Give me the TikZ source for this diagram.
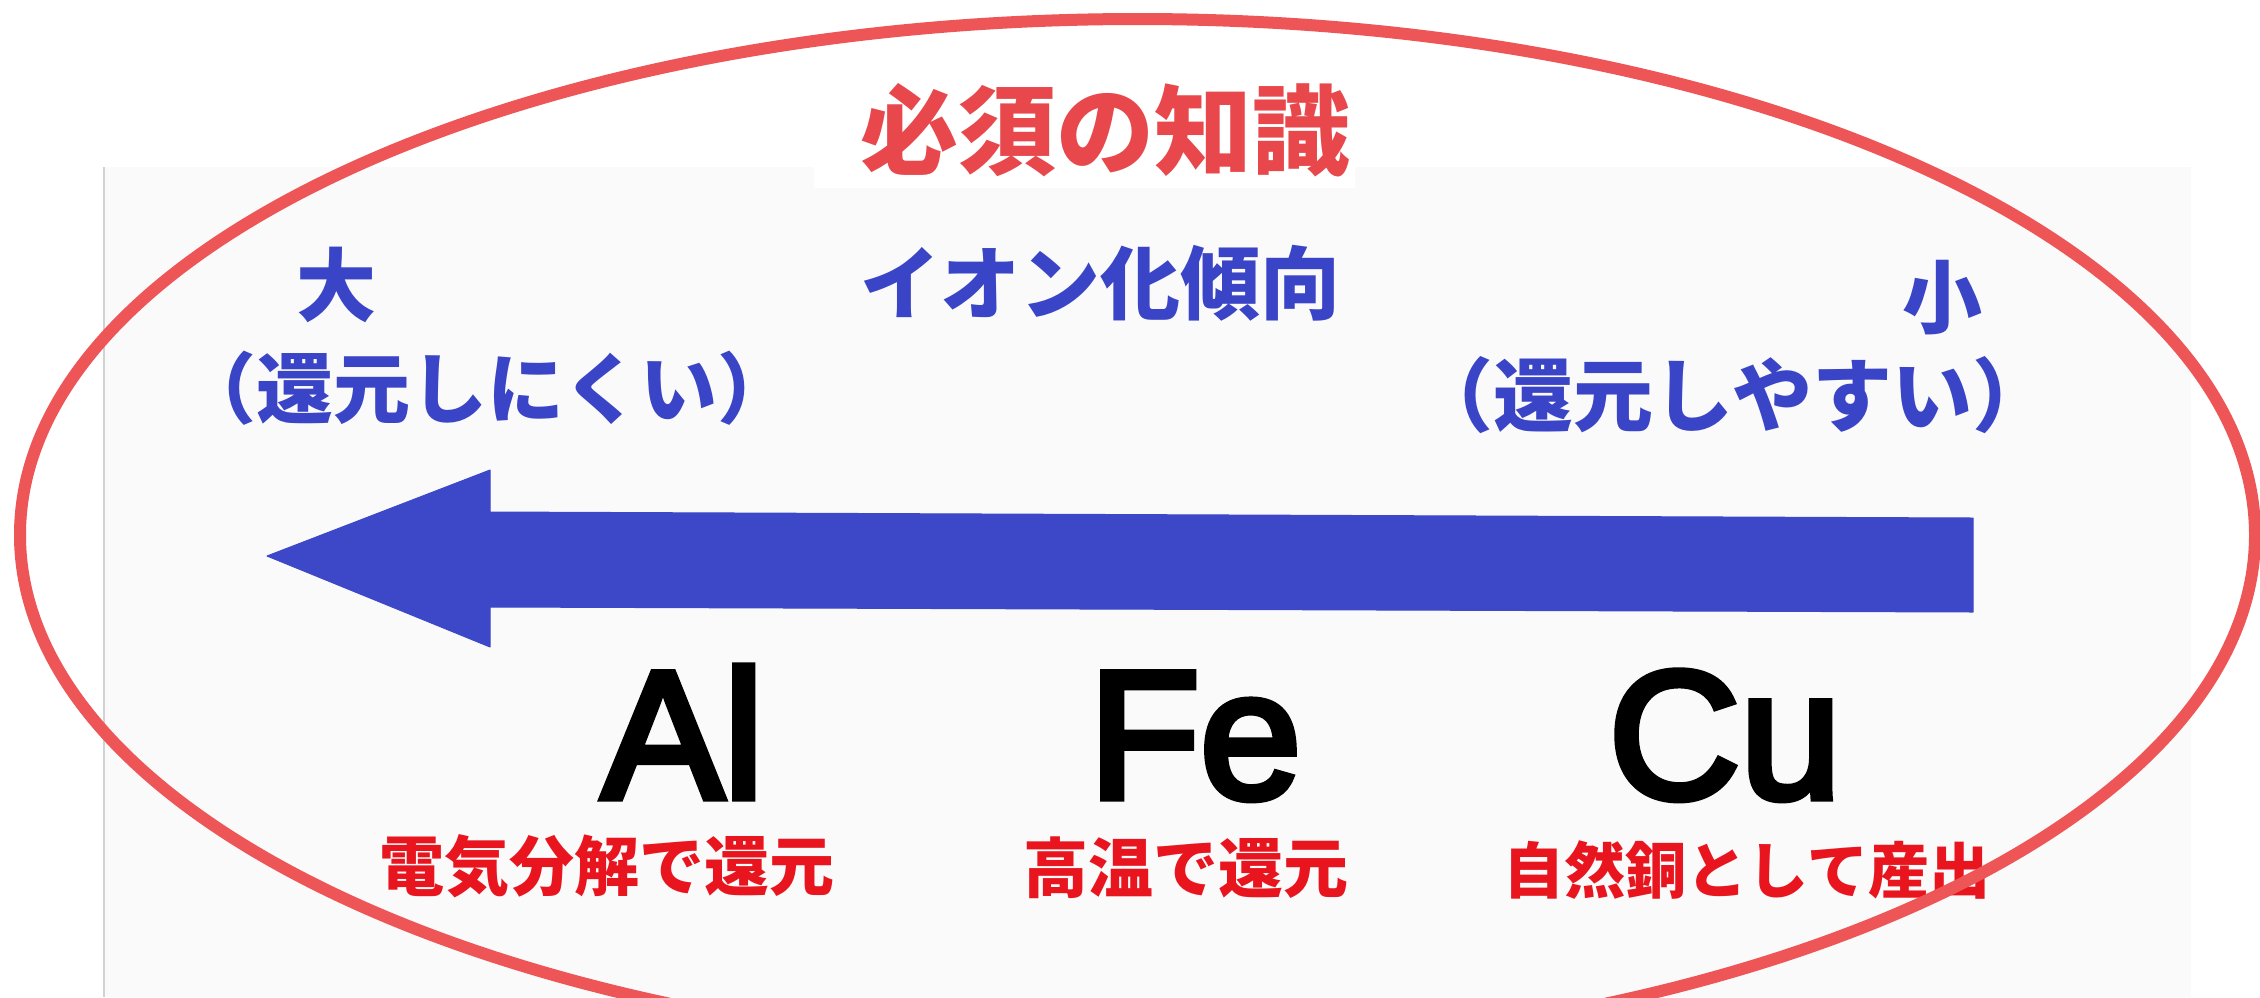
\documentclass[tikz,border=0pt]{standalone}
\usepackage{fontspec}
\newfontfamily\jp{Noto Sans CJK JP}
\newfontfamily\lat{Liberation Sans}[FakeBold=4]
\definecolor{ringred}{HTML}{EE5557}
\definecolor{titlered}{HTML}{E8474B}
\definecolor{labelred}{HTML}{E8141E}
\definecolor{textblue}{HTML}{3A44C6}
\definecolor{arrowblue}{HTML}{3D48C8}
\definecolor{panelgray}{HTML}{FAFAFA}
\definecolor{panelline}{HTML}{D2D2D2}
\begin{document}
\begin{tikzpicture}[x=1pt,y=-1pt,
  jptext/.style={inner sep=0pt, anchor=center},
  titletext/.style={jptext, text=titlered, font={\jp\bfseries\fontsize{98pt}{100pt}\selectfont}},
  headtext/.style={jptext, text=textblue, font={\jp\bfseries\fontsize{80pt}{82pt}\selectfont}},
  sidetext/.style={jptext, text=textblue, font={\jp\bfseries\fontsize{77pt}{79pt}\selectfont}},
  redlabel/.style={jptext, text=labelred, font={\jp\bfseries\fontsize{65pt}{67pt}\selectfont}},
  element/.style={inner sep=0pt, anchor=base, text=black, font={\lat\fontsize{182pt}{190pt}\selectfont}},
  ring/.style={draw=ringred, line width=12pt},
  bigarrow/.style={fill=arrowblue, draw=arrowblue, line width=1pt, line join=round}
]
\useasboundingbox (0,0) rectangle (2260,997);
\clip (0,0) rectangle (2260,997);
\fill[white] (0,0) rectangle (2260,997);
% panel (screenshot background)
\fill[panelgray] (104,167) rectangle (2191,997);
\draw[panelline, line width=2pt] (104,167) -- (104,997);
\fill[white] (814,60) rectangle (1355,188);

% texts
\node[titletext] (title) at (1105,130) {必須の知識};
\node[headtext] (trend) at (1100,283) {イオン化傾向};
\node[headtext] (big) at (336,285) {大};
\node[headtext] (small) at (1942,298) {小};
\node[sidetext] (hard) at (487,388) {（還元しにくい）};
\node[sidetext, font={\jp\bfseries\fontsize{80pt}{82pt}\selectfont}] (easy) at (1733,395) {（還元しやすい）};

% big arrow
\coordinate (tip) at (267,556);
\coordinate (headtop) at (490,470);
\coordinate (headbot) at (490,647);
\coordinate (tailtop) at (1973,518);
\coordinate (tailbot) at (1973,612);
\fill[bigarrow] (tip) -- (headtop) -- (490,512) -- (tailtop) -- (tailbot) -- (490,607) -- (headbot) -- cycle;

% elements
\node[element] (al) at (683,798) {Al};
\node[element] (fe) at (1195,798) {Fe};
\node[element] (cu) at (1725,798) {Cu};

% labels
\node[redlabel] (allab) at (607,866) {電気分解で還元};
\node[redlabel] (felab) at (1186,868) {高温で還元};
\node[redlabel, font={\jp\bfseries\fontsize{61pt}{63pt}\selectfont}] (culab) at (1747,870) {自然銅として産出};

% ring
\draw[ring] (1137.5,535) ellipse [x radius=1117.5, y radius=516];
\end{tikzpicture}
\end{document}
